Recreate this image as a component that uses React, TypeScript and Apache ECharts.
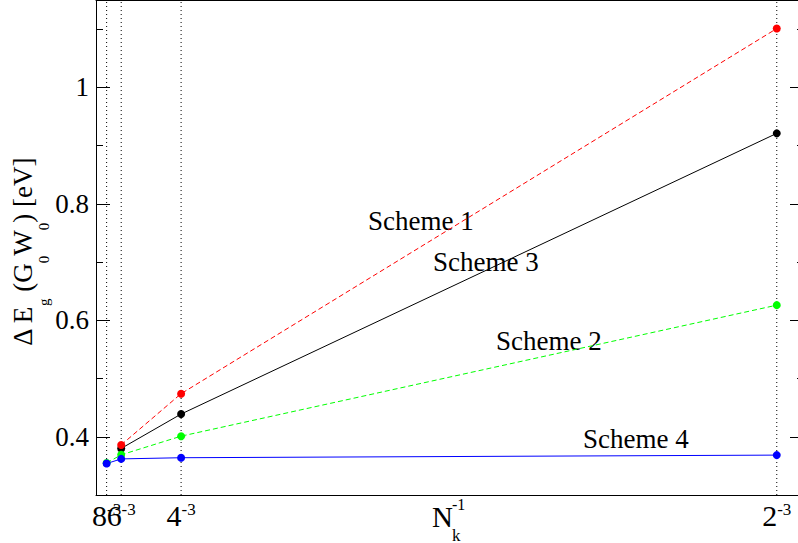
import React, { useEffect, useRef } from "react";
import * as echarts from "echarts";

// ---- data ----
const kValues = [8, 6, 4, 2]; // N_k values, x = N_k^-3
const xValues = kValues.map((k) => 1 / (k * k * k));
const xTickBases = ["8", "6", "4", "2"];
const scheme1 = [null, 0.386, 0.474, 1.101];
const scheme3 = [null, 0.38, 0.439, 0.921];
const scheme2 = [0.355, 0.369, 0.401, 0.626];
const scheme4 = [0.354, 0.362, 0.364, 0.3685];
const yMajor = [0.4, 0.6, 0.8, 1.0];
const yMinor = [0.5, 0.7, 0.9, 1.1];
const yRange = [0.3, 1.15];
const xRange = [0, 0.13];
const schemeLabels = ["Scheme 1", "Scheme 3", "Scheme 2", "Scheme 4"];

const FONT = "'Liberation Serif', 'Times New Roman', serif";

const pairs = (ys: (number | null)[]) =>
  xValues
    .map((x, i) => (ys[i] == null ? null : [x, ys[i] as number]))
    .filter((p) => p !== null) as number[][];

const xLabelFor = (v: number) => {
  let idx = 0;
  let best = Infinity;
  xValues.forEach((x, i) => {
    if (Math.abs(x - v) < best) {
      best = Math.abs(x - v);
      idx = i;
    }
  });
  return `{b|${xTickBases[idx]}}{s|-3}`;
};

export default function App() {
  const ref = useRef<HTMLDivElement>(null);
  useEffect(() => {
    if (!ref.current) return;
    const chart = echarts.init(ref.current, null, { renderer: "svg" });
    const yBase = (pos: "left" | "right", ticks: number[], len: number, line: boolean, labels: boolean) => ({
      type: "value",
      position: pos,
      min: yRange[0],
      max: yRange[1],
      axisLine: { show: line, onZero: false, lineStyle: { color: "#000", width: 1 } },
      axisTick: { show: true, inside: true, length: len, customValues: ticks, lineStyle: { color: "#000", width: 1 } },
      axisLabel: labels
        ? {
            show: true,
            customValues: ticks,
            margin: 7,
            color: "#000",
            fontFamily: FONT,
            fontSize: 27,
            formatter: (v: number) => String(Math.round(v * 10) / 10),
          }
        : { show: false },
      splitLine: { show: false },
    });
    const xBase = (pos: "top" | "bottom", line: boolean, labelValues: number[] | null) => ({
      type: "value",
      position: pos,
      min: xRange[0],
      max: xRange[1],
      axisLine: { show: line, onZero: false, lineStyle: { color: "#000", width: 1 } },
      axisTick: { show: false },
      axisLabel: labelValues
        ? {
            show: true,
            customValues: labelValues,
            margin: 4,
            hideOverlap: false,
            showMinLabel: true,
            showMaxLabel: true,
            formatter: xLabelFor,
            rich: {
              b: { fontFamily: FONT, fontSize: 30, lineHeight: 32, color: "#000" },
              s: { fontFamily: FONT, fontSize: 17, lineHeight: 17, color: "#000", padding: [0, 0, 11, 0] },
            },
          }
        : { show: false },
      splitLine: { show: false },
    });
    const lineSeries = (name: string, ys: (number | null)[], color: string, dashed: boolean) => ({
      name,
      type: "line",
      data: pairs(ys),
      symbol: "circle",
      symbolSize: 8,
      z: 3,
      itemStyle: { color },
      lineStyle: { color, width: 1, type: dashed ? [5, 3] : "solid" },
    });
    const guideSeries = xValues.map((x) => ({
      type: "line",
      data: [
        [x, yRange[0]],
        [x, yRange[1]],
      ],
      symbol: "none",
      silent: true,
      z: 1,
      lineStyle: { color: "#000", width: 1, type: [1, 3] },
    }));
    chart.setOption({
      animation: false,
      backgroundColor: "#fff",
      grid: { left: 96, top: 0, width: 708, height: 495, containLabel: false, outerBoundsMode: "none" },
      xAxis: [
        xBase("bottom", true, [xValues[0], xValues[2], xValues[3]]),
        xBase("top", true, null),
        xBase("bottom", false, [xValues[1]]),
      ],
      yAxis: [
        yBase("left", yMajor, 14, true, true),
        yBase("left", yMinor, 7, false, false),
        yBase("right", yMajor, 14, true, false),
        yBase("right", yMinor, 7, false, false),
      ],
      series: [
        ...guideSeries,
        lineSeries("Scheme 3", scheme3, "#000000", false),
        lineSeries("Scheme 1", scheme1, "#ff0000", true),
        lineSeries("Scheme 2", scheme2, "#00ff00", true),
        lineSeries("Scheme 4", scheme4, "#0000ff", false),
      ],
      graphic: [
        { type: "text", x: 368, y: 221, style: { text: schemeLabels[0], fontFamily: FONT, fontSize: 27, fill: "#000", align: "left", verticalAlign: "middle" } },
        { type: "text", x: 433, y: 262, style: { text: schemeLabels[1], fontFamily: FONT, fontSize: 27, fill: "#000", align: "left", verticalAlign: "middle" } },
        { type: "text", x: 496, y: 341, style: { text: schemeLabels[2], fontFamily: FONT, fontSize: 27, fill: "#000", align: "left", verticalAlign: "middle" } },
        { type: "text", x: 583, y: 439, style: { text: schemeLabels[3], fontFamily: FONT, fontSize: 27, fill: "#000", align: "left", verticalAlign: "middle" } },
        { type: "text", x: 432, y: 517, style: { text: "N", fontFamily: FONT, fontSize: 29, fill: "#000", align: "left", verticalAlign: "middle" } },
        { type: "text", x: 452, y: 504, style: { text: "-1", fontFamily: FONT, fontSize: 16, fill: "#000", align: "left", verticalAlign: "middle" } },
        { type: "text", x: 452, y: 535, style: { text: "k", fontFamily: FONT, fontSize: 17, fill: "#000", align: "left", verticalAlign: "middle" } },
        {
          type: "text",
          x: 23,
          y: 252,
          rotation: Math.PI / 2,
          style: {
            text: "{b|Δ E}{s|g}{b| (G}{s|0}{b|W}{s|0}{b|) [eV]}",
            align: "center",
            verticalAlign: "middle",
            fill: "#000",
            fontFamily: FONT,
            fontSize: 27,
            rich: {
              b: { fontFamily: FONT, fontSize: 27, lineHeight: 27, fill: "#000", verticalAlign: "top" },
              s: { fontFamily: FONT, fontSize: 15, lineHeight: 15, fill: "#000", verticalAlign: "top", padding: [27, 0, 0, 0] },
            },
          },
        },
      ],
    });
    return () => chart.dispose();
  }, []);
  return <div ref={ref} style={{ width: 798, height: 543, position: "absolute", left: 0, top: 0 }} />;
}
